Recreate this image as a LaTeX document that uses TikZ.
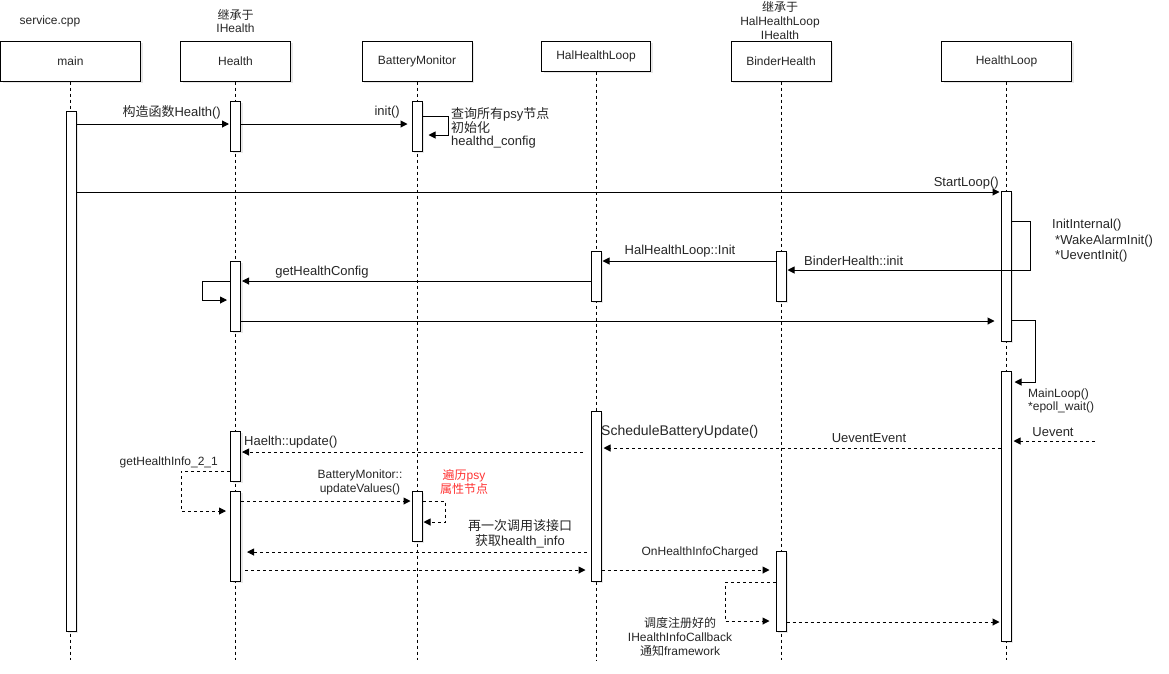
\documentclass[tikz,border=0pt]{standalone}
\usepackage{fontspec}
\setmainfont{Liberation Sans}
\newfontfamily\cjk{Noto Sans CJK SC}
\usetikzlibrary{arrows.meta,shadows}
\definecolor{notered}{HTML}{FF3333}
\tikzset{
  shade box/.style={drop shadow={shadow xshift=2pt,shadow yshift=-2pt,opacity=0.18}},
  actor/.style={draw, fill=white, line width=1pt, inner sep=0pt, minimum height=40pt,
    text=black!85, font=\fontsize{12}{14}\selectfont, shade box},
  actbar/.style={draw, fill=white, line width=1pt, inner sep=0pt, minimum width=10pt, shade box},
  lifeline/.style={line width=0.8pt, dash pattern=on 3pt off 3pt},
  msg/.style={line width=1pt, -{Triangle[length=7pt,width=7pt]}},
  ret/.style={msg, dash pattern=on 3pt off 3pt},
  lbl/.style={inner sep=1pt, text=black!85, font=\fontsize{13}{15}\selectfont},
  slbl/.style={lbl, font=\fontsize{12}{14}\selectfont},
}
\begin{document}
\begin{tikzpicture}[x=1pt,y=-1pt]
  \useasboundingbox (0,0) rectangle (1169,673);

  % Participantes
  \node[actor, minimum width=140pt] (main) at (70.5,61) {main};
  \node[actor, minimum width=110pt] (health) at (235.5,61) {Health};
  \node[actor, minimum width=110pt] (bm) at (417,61) {BatteryMonitor};
  \node[actor, minimum width=109pt, minimum height=30pt] (hal) at (596,56) {HalHealthLoop};
  \node[actor, minimum width=100pt] (binder) at (781,61) {BinderHealth};
  \node[actor, minimum width=130pt] (loop) at (1006.5,61) {HealthLoop};

  % Notas de arriba
  \node[slbl] (tsrc) at (50,21) {service.cpp};
  \node[slbl, align=center, font=\fontsize{12}{13.5}\selectfont] (tih) at (235.5,21) {{\cjk 继承于}\\IHealth};
  \node[slbl, align=center, font=\fontsize{12}{14}\selectfont] (tbh) at (780,21) {{\cjk 继承于}\\HalHealthLoop\\IHealth};

  % Lineas de vida
  \foreach \a in {main,health,bm,hal,binder,loop}
    \draw[lifeline] (\a.south) -- (\a.south |- 0,660);

  % Barras de activacion
  \node[actbar, minimum height=520pt] (mb) at (71,371) {};
  \node[actbar, minimum height=50pt] (hb1) at (235.5,126) {};
  \node[actbar, minimum height=50pt] (bmb1) at (417,126) {};
  \node[actbar, minimum height=150pt] (lb1) at (1006,266) {};
  \node[actbar, minimum height=50pt] (binb1) at (781,276) {};
  \node[actbar, minimum height=50pt] (halb1) at (596,276) {};
  \node[actbar, minimum height=70pt] (hb2) at (235.5,296) {};
  \node[actbar, minimum height=270pt] (lb2) at (1006,506) {};
  \node[actbar, minimum height=170pt] (halb2) at (596,496) {};
  \node[actbar, minimum height=50pt] (hb3) at (235.5,456) {};
  \node[actbar, minimum height=90pt] (hb4) at (235.5,536) {};
  \node[actbar, minimum height=50pt] (bmb2) at (417,516) {};
  \node[actbar, minimum height=80pt] (binb2) at (781,591) {};

  % Inicio
  \draw[msg, shorten >=1pt] (mb.east |- 0,124) -- (hb1.west |- 0,124);
  \node[lbl, anchor=east] (lctor) at (222,112) {{\cjk 构造函数}Health()};
  \draw[msg, shorten >=4pt] (hb1.east |- 0,124) -- (bmb1.west |- 0,124);
  \node[lbl, anchor=east] (linit) at (401,112) {init()};
  \draw[msg, shorten >=6pt] (bmb1.east |- 0,116) -- (448,116) -- (448,135) -- (bmb1.east |- 0,135);
  \node[lbl, anchor=north west, align=left, fill=white, font=\fontsize{13}{12.5}\selectfont] (lpsy) at (450,106)
    {{\cjk 查询所有}psy{\cjk 节点}\\{\cjk 初始化}\\healthd\_config};

  % StartLoop
  \draw[msg, shorten >=1pt] (mb.east |- 0,192) -- (lb1.west |- 0,192);
  \node[lbl, anchor=east] (lstart) at (1000,183) {StartLoop()};
  \draw[msg, shorten >=1pt] (lb1.east |- 0,221) -- (1030,221) -- (1030,270) -- (binb1.east |- 0,270);
  \node[lbl, anchor=west] (lbinit) at (803,261) {BinderHealth::init};
  \node[lbl, anchor=north west, align=left, font=\fontsize{13}{15.5}\selectfont] (linternal) at (1051,218)
    {InitInternal()\\\hspace*{3pt}*WakeAlarmInit()\\\hspace*{3pt}*UeventInit()};
  \draw[msg, shorten >=1pt] (binb1.west |- 0,261) -- (halb1.east |- 0,261);
  \node[lbl] (lhinit) at (680,251) {HalHealthLoop::Init};
  \draw[msg, shorten >=1pt] (halb1.west |- 0,281) -- (hb2.east |- 0,281);
  \node[lbl] (lconf) at (322,272) {getHealthConfig};
  \draw[msg, shorten >=3pt] (hb2.west |- 0,281) -- (202,281) -- (202,300) -- (hb2.west |- 0,300);
  \draw[msg, shorten >=6pt] (hb2.east |- 0,321) -- (lb1.west |- 0,321);
  \draw[msg, shorten >=3pt] (lb1.east |- 0,320) -- (1035,320) -- (1035,382) -- (lb2.east |- 0,382);
  \node[slbl, anchor=north west, align=left, font=\fontsize{12}{13}\selectfont] (lmain) at (1027,388)
    {MainLoop()\\*epoll\_wait()};

  % Uevent
  \coordinate (uev) at (1095,441);
  \draw[ret, shorten >=2pt] (uev) -- (lb2.east |- 0,441);
  \node[lbl] (luev) at (1053,432) {Uevent};
  \draw[ret, shorten >=2pt] (lb2.west |- 0,448) -- (halb2.east |- 0,448);
  \node[lbl] (luevent) at (869,438) {UeventEvent};
  \node[lbl, anchor=west, font=\fontsize{14}{16}\selectfont] (lsched) at (600,432) {ScheduleBatteryUpdate()};
  \draw[ret, shorten <=8pt, shorten >=1pt] (halb2.west |- 0,452) -- (hb3.east |- 0,452);
  \node[lbl, anchor=west] (lupd) at (243,442) {Haelth::update()};
  \draw[ret, shorten >=4pt] (hb3.west |- 0,471) -- (181,471) -- (181,511) -- (hb4.west |- 0,511);
  \node[slbl, anchor=east] (linfo) at (219,462) {getHealthInfo\_2\_1};
  \draw[ret, shorten >=1pt] (hb4.east |- 0,501) -- (bmb2.west |- 0,501);
  \node[slbl, align=center] (lvals) at (360,482) {BatteryMonitor::\\updateValues()};
  \draw[ret, shorten >=1pt] (bmb2.east |- 0,501) -- (445,501) -- (445,522) -- (bmb2.east |- 0,522);
  \node[slbl, align=center, text=notered] (lwalk) at (464,482) {{\cjk 遍历}psy\\{\cjk 属性节点}};
  \draw[ret, shorten <=4pt, shorten >=6pt] (halb2.west |- 0,552) -- (hb4.east |- 0,552);
  \node[lbl, align=center, fill=white] (lagain) at (520,534) {{\cjk 再一次调用该接口}\\{\cjk 获取}health\_info};
  \draw[ret, shorten <=4pt, shorten >=5pt] (hb4.east |- 0,570) -- (halb2.west |- 0,570);

  % Callback
  \draw[ret, shorten >=6pt] (halb2.east |- 0,570) -- (binb2.west |- 0,570);
  \node[slbl] (lcharged) at (700,552) {OnHealthInfoCharged};
  \draw[ret, shorten >=6pt] (binb2.west |- 0,582) -- (725,582) -- (725,621) -- (binb2.west |- 0,621);
  \node[slbl, align=center] (lcb) at (680,637) {{\cjk 调度注册好的}\\IHealthInfoCallback\\{\cjk 通知}framework};
  \draw[ret, shorten >=1pt] (binb2.east |- 0,622) -- (lb2.west |- 0,622);
\end{tikzpicture}
\end{document}
